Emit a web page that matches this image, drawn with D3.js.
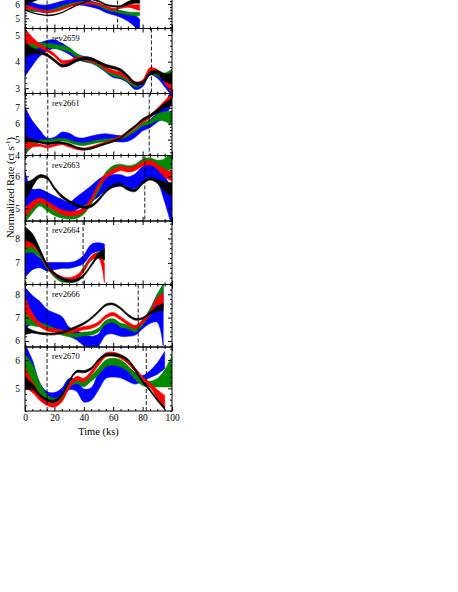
<!DOCTYPE html>
<html>
<head>
<meta charset="utf-8">
<script src="https://cdn.jsdelivr.net/npm/d3@7"></script>
<style>
  html, body { margin: 0; padding: 0; background: #fff; }
  svg { display: block; font-family: "Liberation Serif", "Times New Roman", serif; }
</style>
</head>
<body>
<svg id="chart" width="458" height="592"></svg>
<script>
// time grid (ks) shared by most panels
const tFull = [0, 5, 10, 15, 20, 25, 30, 35, 40, 45, 50, 55, 60, 65, 70, 75, 80, 85, 90, 95, 100];
const xMajor = [0, 20, 40, 60, 80, 100];

// panel 1 (top, mostly cut off)
const p1T = [0, 5, 10, 15, 20, 25, 30, 35, 40, 45, 50, 55, 60, 65, 70, 75, 78];
const p1Domain = [4.29, 8.76];
const p1Dash = [15, 63];
const p1Black = [6.2, 6.3, 6.45, 6.55, 6.5, 6.45, 6.4, 6.4, 6.4, 6.35, 6.2, 5.95, 5.85, 5.85, 6.05, 6.2, 6.2];
const p1BlackW = [0.2, 0.15, 0.1, 0.08, 0.06, 0.06, 0.06, 0.06, 0.06, 0.05, 0.05, 0.05, 0.05, 0.05, 0.12, 0.15, 0.15];
const p1BlackLowT = [0, 5, 10, 15, 20, 25, 30, 35, 40, 45];
const p1BlackLow = [5.6, 5.4, 5.27, 5.2, 5.25, 5.4, 5.65, 5.9, 6.1, 6.3];
const p1Red = [5.8, 5.7, 5.55, 5.45, 5.5, 5.65, 5.85, 6.0, 6.05, 6.05, 6.0, 5.8, 5.65, 5.75, 5.85, 5.8, 5.75];
const p1RedW = [0.15, 0.08, 0.06, 0.06, 0.06, 0.06, 0.06, 0.06, 0.06, 0.06, 0.06, 0.06, 0.06, 0.06, 0.07, 0.15, 0.2];
const p1Green = [5.65, 5.6, 5.55, 5.5, 5.6, 5.8, 5.95, 6.05, 6.1, 6.05, 5.95, 5.7, 5.55, 5.45, 5.35, 5.3, 5.3];
const p1GreenW = [0.12, 0.08, 0.07, 0.07, 0.07, 0.07, 0.07, 0.07, 0.07, 0.07, 0.08, 0.08, 0.08, 0.09, 0.1, 0.12, 0.12];
const p1Blue = [5.9, 5.8, 5.7, 5.65, 5.8, 5.95, 6.1, 6.15, 6.1, 6.0, 5.85, 5.6, 5.45, 5.3, 5.1, 4.8, 4.55];
const p1BlueW = [0.35, 0.3, 0.25, 0.28, 0.25, 0.25, 0.2, 0.2, 0.2, 0.2, 0.2, 0.2, 0.2, 0.22, 0.3, 0.4, 0.4];

// panel 2: rev2659
const p2Domain = [2.8, 5.25];
const p2Dash = [15, 86];
const p2Black = [4.45, 4.4, 4.35, 4.25, 4.05, 3.85, 3.9, 4.05, 4.12, 4.1, 3.98, 3.85, 3.78, 3.68, 3.45, 3.18, 3.2, 3.55, 3.6, 3.4, 3.35];
const p2BlackW = [0.27, 0.12, 0.06, 0.05, 0.05, 0.05, 0.05, 0.05, 0.05, 0.05, 0.05, 0.05, 0.05, 0.05, 0.05, 0.05, 0.05, 0.06, 0.07, 0.15, 0.2];
const p2Red = [4.95, 4.8, 4.6, 4.44, 4.25, 4.0, 4.0, 4.1, 4.12, 4.05, 3.95, 3.75, 3.62, 3.55, 3.38, 3.18, 3.25, 3.7, 3.62, 3.3, 2.95];
const p2RedW = [0.3, 0.12, 0.07, 0.06, 0.06, 0.06, 0.06, 0.06, 0.06, 0.06, 0.06, 0.06, 0.06, 0.06, 0.06, 0.06, 0.06, 0.07, 0.08, 0.1, 0.15];
const p2Green = [4.55, 4.6, 4.62, 4.6, 4.58, 4.53, 4.45, 4.25, 4.08, 4.02, 3.88, 3.7, 3.52, 3.47, 3.3, 3.12, 3.2, 3.6, 3.55, 3.45, 3.6];
const p2GreenW = [0.25, 0.15, 0.1, 0.08, 0.08, 0.08, 0.08, 0.07, 0.07, 0.07, 0.07, 0.07, 0.07, 0.07, 0.07, 0.07, 0.07, 0.08, 0.1, 0.12, 0.12];
const p2Blue = [3.95, 4.2, 4.45, 4.6, 4.66, 4.56, 4.4, 4.2, 4.1, 4.05, 3.9, 3.7, 3.5, 3.45, 3.3, 3.05, 3.15, 3.6, 3.5, 3.2, 2.9];
const p2BlueW = [0.5, 0.35, 0.25, 0.2, 0.16, 0.14, 0.12, 0.1, 0.1, 0.1, 0.1, 0.1, 0.1, 0.1, 0.1, 0.1, 0.1, 0.1, 0.12, 0.15, 0.2];

// panel 3: rev2661
const p3Domain = [4.0, 7.9];
const p3Dash = [15.5, 84.5];
const p3Black = [5.05, 4.95, 4.85, 4.75, 4.8, 4.8, 4.7, 4.5, 4.4, 4.45, 4.6, 4.75, 4.9, 5.1, 5.5, 5.85, 6.25, 6.5, 6.8, 7.15, 7.35];
const p3BlackW = [0.2, 0.08, 0.05, 0.05, 0.05, 0.05, 0.05, 0.05, 0.05, 0.05, 0.05, 0.05, 0.05, 0.05, 0.06, 0.06, 0.07, 0.08, 0.1, 0.15, 0.2];
const p3Red = [4.65, 4.65, 4.65, 4.55, 4.65, 4.75, 4.6, 4.45, 4.4, 4.5, 4.65, 4.8, 4.95, 5.15, 5.45, 5.8, 6.15, 6.45, 6.85, 7.3, 7.6];
const p3RedW = [0.3, 0.12, 0.07, 0.07, 0.07, 0.07, 0.07, 0.07, 0.07, 0.07, 0.07, 0.07, 0.07, 0.08, 0.08, 0.08, 0.1, 0.1, 0.12, 0.15, 0.25];
const p3Green = [4.45, 4.7, 4.9, 4.9, 4.95, 5.0, 4.9, 4.75, 4.7, 4.8, 4.9, 4.95, 5.0, 5.1, 5.3, 5.6, 5.95, 6.1, 6.4, 6.45, 6.35];
const p3GreenW = [0.4, 0.15, 0.08, 0.08, 0.08, 0.08, 0.08, 0.08, 0.08, 0.08, 0.08, 0.08, 0.08, 0.08, 0.08, 0.08, 0.1, 0.12, 0.2, 0.3, 0.45];
const p3Blue = [5.95, 5.5, 5.2, 4.9, 4.95, 5.2, 5.15, 4.95, 4.9, 5.0, 5.1, 5.15, 5.1, 5.05, 5.1, 5.35, 5.75, 6.0, 6.4, 6.8, 7.9];
const p3BlueW = [1.1, 0.68, 0.4, 0.2, 0.2, 0.27, 0.25, 0.2, 0.2, 0.22, 0.22, 0.22, 0.2, 0.2, 0.2, 0.2, 0.2, 0.25, 0.3, 0.4, 0.5];

// panel 4: rev2663
const p4Domain = [4.6, 6.65];
const p4Dash = [15, 81.5];
const p4Black = [5.5, 5.78, 6.0, 5.95, 5.63, 5.37, 5.21, 5.1, 5.03, 5.07, 5.26, 5.53, 5.7, 5.74, 5.6, 5.56, 5.79, 5.92, 5.84, 5.68, 5.58];
const p4BlackW = [0.28, 0.12, 0.05, 0.04, 0.04, 0.04, 0.04, 0.04, 0.04, 0.04, 0.04, 0.04, 0.04, 0.04, 0.04, 0.04, 0.04, 0.04, 0.06, 0.15, 0.22];
const p4Red = [4.85, 5.1, 5.25, 5.15, 5.0, 4.88, 4.83, 4.85, 4.95, 5.25, 5.7, 6.0, 6.15, 6.25, 6.2, 6.25, 6.38, 6.42, 6.3, 6.1, 6.0];
const p4RedW = [0.15, 0.1, 0.07, 0.07, 0.07, 0.07, 0.07, 0.07, 0.07, 0.07, 0.07, 0.07, 0.07, 0.07, 0.07, 0.07, 0.07, 0.07, 0.08, 0.12, 0.15];
const p4Green = [4.7, 4.95, 5.15, 5.0, 4.85, 4.77, 4.74, 4.76, 4.9, 5.2, 5.6, 6.05, 6.25, 6.3, 6.25, 6.3, 6.45, 6.5, 6.4, 6.35, 6.55];
const p4GreenW = [0.15, 0.1, 0.08, 0.08, 0.08, 0.08, 0.08, 0.08, 0.08, 0.08, 0.08, 0.08, 0.08, 0.08, 0.08, 0.08, 0.08, 0.08, 0.1, 0.2, 0.3];
const p4Blue = [5.6, 5.35, 5.38, 5.3, 5.2, 5.1, 5.0, 5.15, 5.3, 5.45, 5.63, 5.8, 5.85, 5.87, 5.8, 5.85, 6.05, 6.15, 6.05, 5.6, 5.0];
const p4BlueW = [0.55, 0.25, 0.22, 0.2, 0.18, 0.18, 0.18, 0.2, 0.22, 0.25, 0.27, 0.24, 0.2, 0.18, 0.18, 0.23, 0.25, 0.25, 0.25, 0.4, 0.6];

// panel 5: rev2664
const p5T = [0, 5, 10, 15, 20, 25, 30, 35, 40, 45, 50, 54];
const p5Domain = [6.12, 8.71];
const p5Dash = [15, 39.5];
const p5Black = [8.2, 8.0, 7.5, 6.9, 6.56, 6.36, 6.26, 6.29, 6.5, 6.9, 7.3, 7.35];
const p5BlackW = [0.28, 0.2, 0.1, 0.05, 0.05, 0.05, 0.05, 0.05, 0.05, 0.05, 0.1, 0.22];
const p5Red = [7.85, 7.8, 7.45, 6.9, 6.55, 6.38, 6.33, 6.43, 6.7, 7.2, 7.3, 6.6];
const p5RedW = [0.25, 0.15, 0.08, 0.07, 0.07, 0.07, 0.07, 0.07, 0.07, 0.07, 0.1, 0.4];
const p5Green = [7.6, 7.55, 7.3, 6.85, 6.5, 6.3, 6.28, 6.35, 6.77, 7.18, 7.35, 7.25];
const p5GreenW = [0.2, 0.12, 0.08, 0.08, 0.08, 0.08, 0.08, 0.08, 0.08, 0.08, 0.1, 0.15];
const p5Blue = [7.1, 7.1, 7.0, 6.85, 6.87, 6.9, 6.9, 6.97, 7.15, 7.55, 7.65, 7.6];
const p5BlueW = [0.7, 0.38, 0.2, 0.18, 0.15, 0.12, 0.12, 0.12, 0.17, 0.2, 0.17, 0.17];

// panel 6: rev2666
const p6T = [0, 5, 10, 15, 20, 25, 30, 35, 40, 45, 50, 55, 60, 65, 70, 75, 80, 85, 90, 94];
const p6Domain = [5.74, 8.42];
const p6Dash = [15, 77];
const p6Black = [6.45, 6.4, 6.33, 6.3, 6.3, 6.36, 6.47, 6.6, 6.75, 6.97, 7.26, 7.54, 7.58, 7.4, 7.11, 6.93, 6.97, 7.19, 7.38, 7.45];
const p6BlackW = [0.18, 0.06, 0.04, 0.04, 0.04, 0.04, 0.04, 0.04, 0.04, 0.04, 0.04, 0.04, 0.04, 0.04, 0.04, 0.04, 0.04, 0.05, 0.1, 0.15];
const p6Red = [7.55, 7.05, 6.7, 6.5, 6.45, 6.4, 6.4, 6.47, 6.55, 6.6, 6.75, 7.04, 7.15, 6.97, 6.75, 6.6, 6.83, 7.18, 7.7, 7.75];
const p6RedW = [0.35, 0.15, 0.08, 0.07, 0.07, 0.07, 0.07, 0.07, 0.07, 0.07, 0.07, 0.07, 0.07, 0.07, 0.07, 0.07, 0.07, 0.08, 0.15, 0.3];
const p6Green = [7.2, 6.9, 6.7, 6.6, 6.47, 6.33, 6.26, 6.24, 6.3, 6.33, 6.47, 6.8, 6.87, 6.69, 6.6, 6.47, 6.75, 7.26, 7.83, 8.25];
const p6GreenW = [0.5, 0.25, 0.1, 0.08, 0.08, 0.08, 0.08, 0.08, 0.08, 0.08, 0.08, 0.08, 0.08, 0.08, 0.08, 0.08, 0.08, 0.1, 0.15, 0.2];
const p6Blue = [7.4, 7.35, 7.25, 6.95, 6.85, 6.7, 6.4, 6.25, 6.05, 5.95, 6.05, 6.55, 6.6, 6.4, 6.38, 6.4, 6.7, 7.05, 7.4, 7.1];
const p6BlueW = [0.9, 0.6, 0.45, 0.4, 0.35, 0.35, 0.2, 0.2, 0.25, 0.25, 0.25, 0.3, 0.3, 0.2, 0.18, 0.15, 0.18, 0.3, 0.6, 1.3];

// panel 7: rev2670
const p7Domain = [4.2, 6.46];
const p7Dash = [15, 82.5];
const p7Black = [5.17, 5.06, 4.76, 4.59, 4.55, 4.76, 5.24, 5.59, 5.59, 5.7, 6.0, 6.18, 6.18, 6.15, 6.0, 5.65, 5.24, 4.94, 4.59, 4.3, null];
const p7BlackW = [0.22, 0.1, 0.04, 0.04, 0.04, 0.04, 0.04, 0.04, 0.04, 0.04, 0.04, 0.04, 0.04, 0.04, 0.04, 0.04, 0.04, 0.04, 0.04, 0.05, null];
const p7Red = [5.4, 5.05, 4.7, 4.47, 4.41, 4.59, 5.06, 5.35, 5.29, 5.53, 5.88, 6.18, 6.21, 6.12, 5.94, 5.65, 5.35, 5.12, 4.8, 4.5, null];
const p7RedW = [0.35, 0.2, 0.12, 0.08, 0.07, 0.07, 0.07, 0.07, 0.07, 0.07, 0.07, 0.07, 0.07, 0.07, 0.07, 0.07, 0.07, 0.08, 0.15, 0.25, null];
const p7Green = [5.8, 5.5, 4.95, 4.65, 4.55, 4.7, 5.12, 5.26, 5.15, 5.35, 5.6, 5.88, 5.94, 5.88, 5.7, 5.41, 5.2, 5.15, 5.2, 5.35, 5.6];
const p7GreenW = [0.4, 0.35, 0.25, 0.12, 0.09, 0.09, 0.1, 0.09, 0.09, 0.1, 0.12, 0.12, 0.12, 0.12, 0.1, 0.1, 0.1, 0.1, 0.15, 0.3, 0.55];
const p7Blue = [6.1, 5.5, 4.95, 4.7, 4.7, 4.85, 5.15, 5.1, 4.75, 4.8, 5.25, 5.65, 5.7, 5.65, 5.5, 5.35, 5.35, 5.5, 5.7, 6.0, null];
const p7BlueW = [0.45, 0.5, 0.25, 0.18, 0.15, 0.15, 0.2, 0.2, 0.23, 0.22, 0.3, 0.3, 0.3, 0.28, 0.25, 0.2, 0.1, 0.12, 0.2, 0.3, null];

const COLORS = {
  black: "#000000",
  red: "#ff0000",
  green: "#008a00",
  blue: "#0000ff",
};
const DRAW_ORDER = ["blue", "green", "red", "black"];

const panels = [
  { label: null, t: p1T, domain: p1Domain, dashes: p1Dash,
    series: { black: [p1Black, p1BlackW], red: [p1Red, p1RedW], green: [p1Green, p1GreenW], blue: [p1Blue, p1BlueW] },
    extra: { t: p1BlackLowT, v: p1BlackLow } },
  { label: "rev2659", t: tFull, domain: p2Domain, dashes: p2Dash,
    series: { black: [p2Black, p2BlackW], red: [p2Red, p2RedW], green: [p2Green, p2GreenW], blue: [p2Blue, p2BlueW] } },
  { label: "rev2661", t: tFull, domain: p3Domain, dashes: p3Dash,
    series: { black: [p3Black, p3BlackW], red: [p3Red, p3RedW], green: [p3Green, p3GreenW], blue: [p3Blue, p3BlueW] } },
  { label: "rev2663", t: tFull, domain: p4Domain, dashes: p4Dash,
    series: { black: [p4Black, p4BlackW], red: [p4Red, p4RedW], green: [p4Green, p4GreenW], blue: [p4Blue, p4BlueW] } },
  { label: "rev2664", t: p5T, domain: p5Domain, dashes: p5Dash,
    series: { black: [p5Black, p5BlackW], red: [p5Red, p5RedW], green: [p5Green, p5GreenW], blue: [p5Blue, p5BlueW] } },
  { label: "rev2666", t: p6T, domain: p6Domain, dashes: p6Dash,
    series: { black: [p6Black, p6BlackW], red: [p6Red, p6RedW], green: [p6Green, p6GreenW], blue: [p6Blue, p6BlueW] } },
  { label: "rev2670", t: tFull, domain: p7Domain, dashes: p7Dash,
    series: { black: [p7Black, p7BlackW], red: [p7Red, p7RedW], green: [p7Green, p7GreenW], blue: [p7Blue, p7BlueW] } },
];

// vertical layout: panel edges in px (the first panel starts above the page)
const PANEL_EDGES = [-35.5, 28.5, 93.5, 155.5, 221, 284.5, 347, 411];

const svg = d3.select("#chart");
const x = d3.scaleLinear().domain([0, 100]).range([25, 172]);
const xMinor = d3.range(0, 101, 5).filter((d) => d % 20 !== 0);

function styleAxis(sel) {
  sel.attr("font-family", null).attr("font-size", 9.5);
  sel.select(".domain").remove();
}

panels.forEach((p, i) => {
  const top = PANEL_EDGES[i];
  const bottom = PANEL_EDGES[i + 1];
  const y = d3.scaleLinear().domain(p.domain).range([bottom, top]);
  const g = svg.append("g").attr("class", "panel");

  const clipId = `clip-${i}`;
  svg.append("clipPath").attr("id", clipId)
    .append("rect")
    .attr("x", x(0)).attr("y", top)
    .attr("width", x(100) - x(0)).attr("height", bottom - top);

  const plot = g.append("g").attr("clip-path", `url(#${clipId})`);
  const curve = d3.curveCatmullRom.alpha(0.5);

  DRAW_ORDER.forEach((name) => {
    const [mid, hw] = p.series[name];
    const pts = p.t.map((t, k) => ({ t, m: mid[k], w: hw[k] }));
    const area = d3.area()
      .defined((d) => d.m != null)
      .x((d) => x(d.t))
      .y0((d) => y(d.m - d.w))
      .y1((d) => y(d.m + d.w))
      .curve(curve);
    plot.append("path")
      .datum(pts)
      .attr("d", area)
      .attr("fill", COLORS[name])
      .attr("stroke", COLORS[name])
      .attr("stroke-width", 0.6);
  });

  if (p.extra) {
    const pts = p.extra.t.map((t, k) => ({ t, v: p.extra.v[k] }));
    plot.append("path")
      .datum(pts)
      .attr("d", d3.line().x((d) => x(d.t)).y((d) => y(d.v)).curve(curve))
      .attr("fill", "none")
      .attr("stroke", COLORS.black)
      .attr("stroke-width", 1.3);
  }

  plot.selectAll("line.dash")
    .data(p.dashes)
    .join("line")
    .attr("class", "dash")
    .attr("x1", (d) => x(d)).attr("x2", (d) => x(d))
    .attr("y1", top).attr("y2", bottom)
    .attr("stroke", "#000")
    .attr("stroke-width", 0.9)
    .attr("stroke-dasharray", "4,2");

  // frame
  g.append("rect")
    .attr("x", x(0)).attr("y", top)
    .attr("width", x(100) - x(0)).attr("height", bottom - top)
    .attr("fill", "none")
    .attr("stroke", "#000")
    .attr("stroke-width", 1);

  const yMajor = d3.range(Math.ceil(p.domain[0] - 1e-9), Math.floor(p.domain[1] + 1e-9) + 1);
  const yMinor = d3.range(Math.ceil(p.domain[0] / 0.2 - 1e-9), Math.floor(p.domain[1] / 0.2 + 1e-9) + 1)
    .map((k) => +(k * 0.2).toFixed(1))
    .filter((v) => Math.abs(v - Math.round(v)) > 1e-6);
  // only label the ticks that fall on the page
  const yLabelled = yMajor.filter((v) => y(v) > 3);

  // left axis with labels
  g.append("g")
    .attr("transform", `translate(${x(0)},0)`)
    .call(d3.axisLeft(y).tickValues(yLabelled).tickSizeInner(-4).tickSizeOuter(0).tickPadding(5).tickFormat(d3.format("d")))
    .call(styleAxis);
  g.append("g")
    .attr("transform", `translate(${x(0)},0)`)
    .call(d3.axisLeft(y).tickValues(yMinor).tickSizeInner(-2).tickSizeOuter(0).tickFormat(""))
    .call(styleAxis);
  // right axis, ticks only
  g.append("g")
    .attr("transform", `translate(${x(100)},0)`)
    .call(d3.axisRight(y).tickValues(yMajor).tickSizeInner(-4).tickSizeOuter(0).tickFormat(""))
    .call(styleAxis);
  g.append("g")
    .attr("transform", `translate(${x(100)},0)`)
    .call(d3.axisRight(y).tickValues(yMinor).tickSizeInner(-2).tickSizeOuter(0).tickFormat(""))
    .call(styleAxis);

  const isLast = i === panels.length - 1;
  // bottom and top x ticks
  g.append("g")
    .attr("transform", `translate(0,${bottom})`)
    .call(d3.axisBottom(x).tickValues(xMajor).tickSizeInner(-4).tickSizeOuter(0).tickPadding(3.5)
      .tickFormat(isLast ? d3.format("d") : ""))
    .call(styleAxis);
  g.append("g")
    .attr("transform", `translate(0,${bottom})`)
    .call(d3.axisBottom(x).tickValues(xMinor).tickSizeInner(-2).tickSizeOuter(0).tickFormat(""))
    .call(styleAxis);
  g.append("g")
    .attr("transform", `translate(0,${top})`)
    .call(d3.axisTop(x).tickValues(xMajor).tickSizeInner(-4).tickSizeOuter(0).tickFormat(""))
    .call(styleAxis);
  g.append("g")
    .attr("transform", `translate(0,${top})`)
    .call(d3.axisTop(x).tickValues(xMinor).tickSizeInner(-2).tickSizeOuter(0).tickFormat(""))
    .call(styleAxis);

  if (p.label) {
    g.append("text")
      .attr("x", 52)
      .attr("y", top + 12)
      .attr("font-size", 8.5)
      .text(p.label);
  }
});

// axis titles
svg.append("text")
  .attr("x", (x(0) + x(100)) / 2)
  .attr("y", 434.5)
  .attr("text-anchor", "middle")
  .attr("font-size", 10.5)
  .text("Time (ks)");

const yTitle = svg.append("text")
  .attr("transform", "translate(13.5,187.5) rotate(-90)")
  .attr("text-anchor", "middle")
  .attr("font-size", 10.5);
yTitle.append("tspan").text("Normalized Rate (ct s");
yTitle.append("tspan").attr("dy", -4).attr("font-size", 7).text("-1");
yTitle.append("tspan").attr("dy", 4).text(")");
</script>
</body>
</html>
